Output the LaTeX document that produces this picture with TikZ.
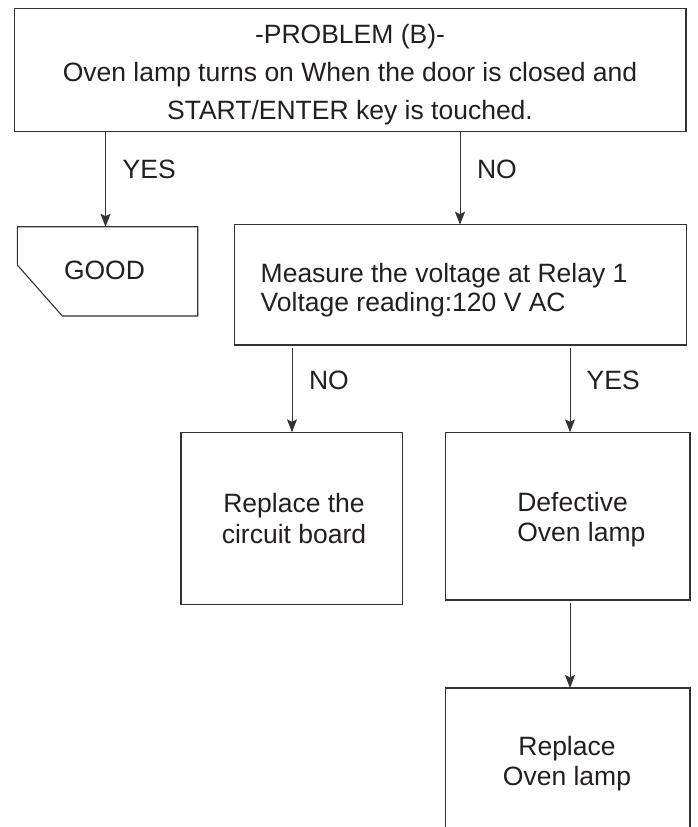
\documentclass[tikz,border=0pt]{standalone}
\usepackage{fontspec}
\setmainfont{Liberation Sans}
\usetikzlibrary{calc,arrows.meta}
\definecolor{ln}{HTML}{333333}
\definecolor{tx}{HTML}{231F20}
\tikzset{
  boxnode/.style={draw=ln, line width=1.1pt, rectangle, inner sep=0pt, outer sep=0pt},
  ghost/.style={rectangle, inner sep=0pt, outer sep=0pt},
  shapeline/.style={draw=ln, line width=1.1pt, line join=miter},
  arr/.style={draw=ln, line width=1pt, -{Stealth[length=13pt,width=10pt,inset=2.5pt]}},
  txt/.style={inner sep=0pt, outer sep=0pt, text=tx, font=\fontsize{26.5}{30}\selectfont}
}
\begin{document}
\begin{tikzpicture}[x=1pt,y=-1pt]
\useasboundingbox (0,0) rectangle (698,827);
% boxes
\node[boxnode, minimum width=671.7pt, minimum height=123.4pt] (prob) at (350.15,70) {};
\node[ghost, minimum width=180.4pt, minimum height=89.3pt] (good) at (107.5,271.35) {};
\draw[shapeline] (good.north west) -- (good.north east) -- (good.south east)
  -- ($(good.south west)+(45,0)$) -- ($(good.north west)+(0,38.3)$) -- cycle;
\node[boxnode, minimum width=452.2pt, minimum height=120.3pt] (meas) at (460.4,284.85) {};
\node[boxnode, minimum width=221.7pt, minimum height=172pt] (circ) at (291.85,518.3) {};
\node[boxnode, minimum width=244.3pt, minimum height=167.7pt] (defc) at (567.85,516.15) {};
\node[ghost, minimum width=244.3pt, minimum height=139pt] (lamp) at (567.85,757.5) {};
\draw[shapeline] (lamp.south west) -- (lamp.north west) -- (lamp.north east) -- (lamp.south east);
% texts
\node[txt, anchor=base] (p1) at (350,43) {-PROBLEM (B)-};
\node[txt, anchor=base] (p2) at (350,81) {Oven lamp turns on When the door is closed and};
\node[txt, anchor=base] (p3) at (350,119) {START/ENTER key is touched.};
\node[txt, anchor=base] (g1) at (104.5,279.5) {GOOD};
\node[txt, anchor=base west] (m1) at (260.7,282) {Measure the voltage at Relay 1};
\node[txt, anchor=base west] (m2) at (260.7,311) {Voltage reading:120 V AC};
\node[txt, anchor=base] (c1) at (294,512.7) {Replace the};
\node[txt, anchor=base] (c2) at (294,543) {circuit board};
\node[txt, anchor=base west] (d1) at (517.3,511.7) {Defective};
\node[txt, anchor=base west] (d2) at (517.3,541.7) {Oven lamp};
\node[txt, anchor=base] (l1) at (567,755) {Replace};
\node[txt, anchor=base] (l2) at (567,785) {Oven lamp};
% connector x positions
\coordinate (ya) at (105.5,0);
\coordinate (na) at (460,0);
\coordinate (nb) at (292,0);
\coordinate (yb) at (570,0);
% connectors
\draw[arr] (prob.south -| ya) -- (good.north -| ya);
\draw[arr] (prob.south -| na) -- (meas.north -| na);
\draw[arr] ([yshift=-3pt]meas.south -| nb) -- (circ.north -| nb);
\draw[arr] ([yshift=-3pt]meas.south -| yb) -- (defc.north -| yb);
\draw[arr] ([yshift=-3pt]defc.south -| yb) -- (lamp.north -| yb);
% labels
\node[txt, anchor=base west] (lya) at (122.7,178) {YES};
\node[txt, anchor=base west] (lna) at (477,178) {NO};
\node[txt, anchor=base west] (lnb) at (309,389) {NO};
\node[txt, anchor=base west] (lyb) at (586.7,389) {YES};
\end{tikzpicture}
\end{document}
